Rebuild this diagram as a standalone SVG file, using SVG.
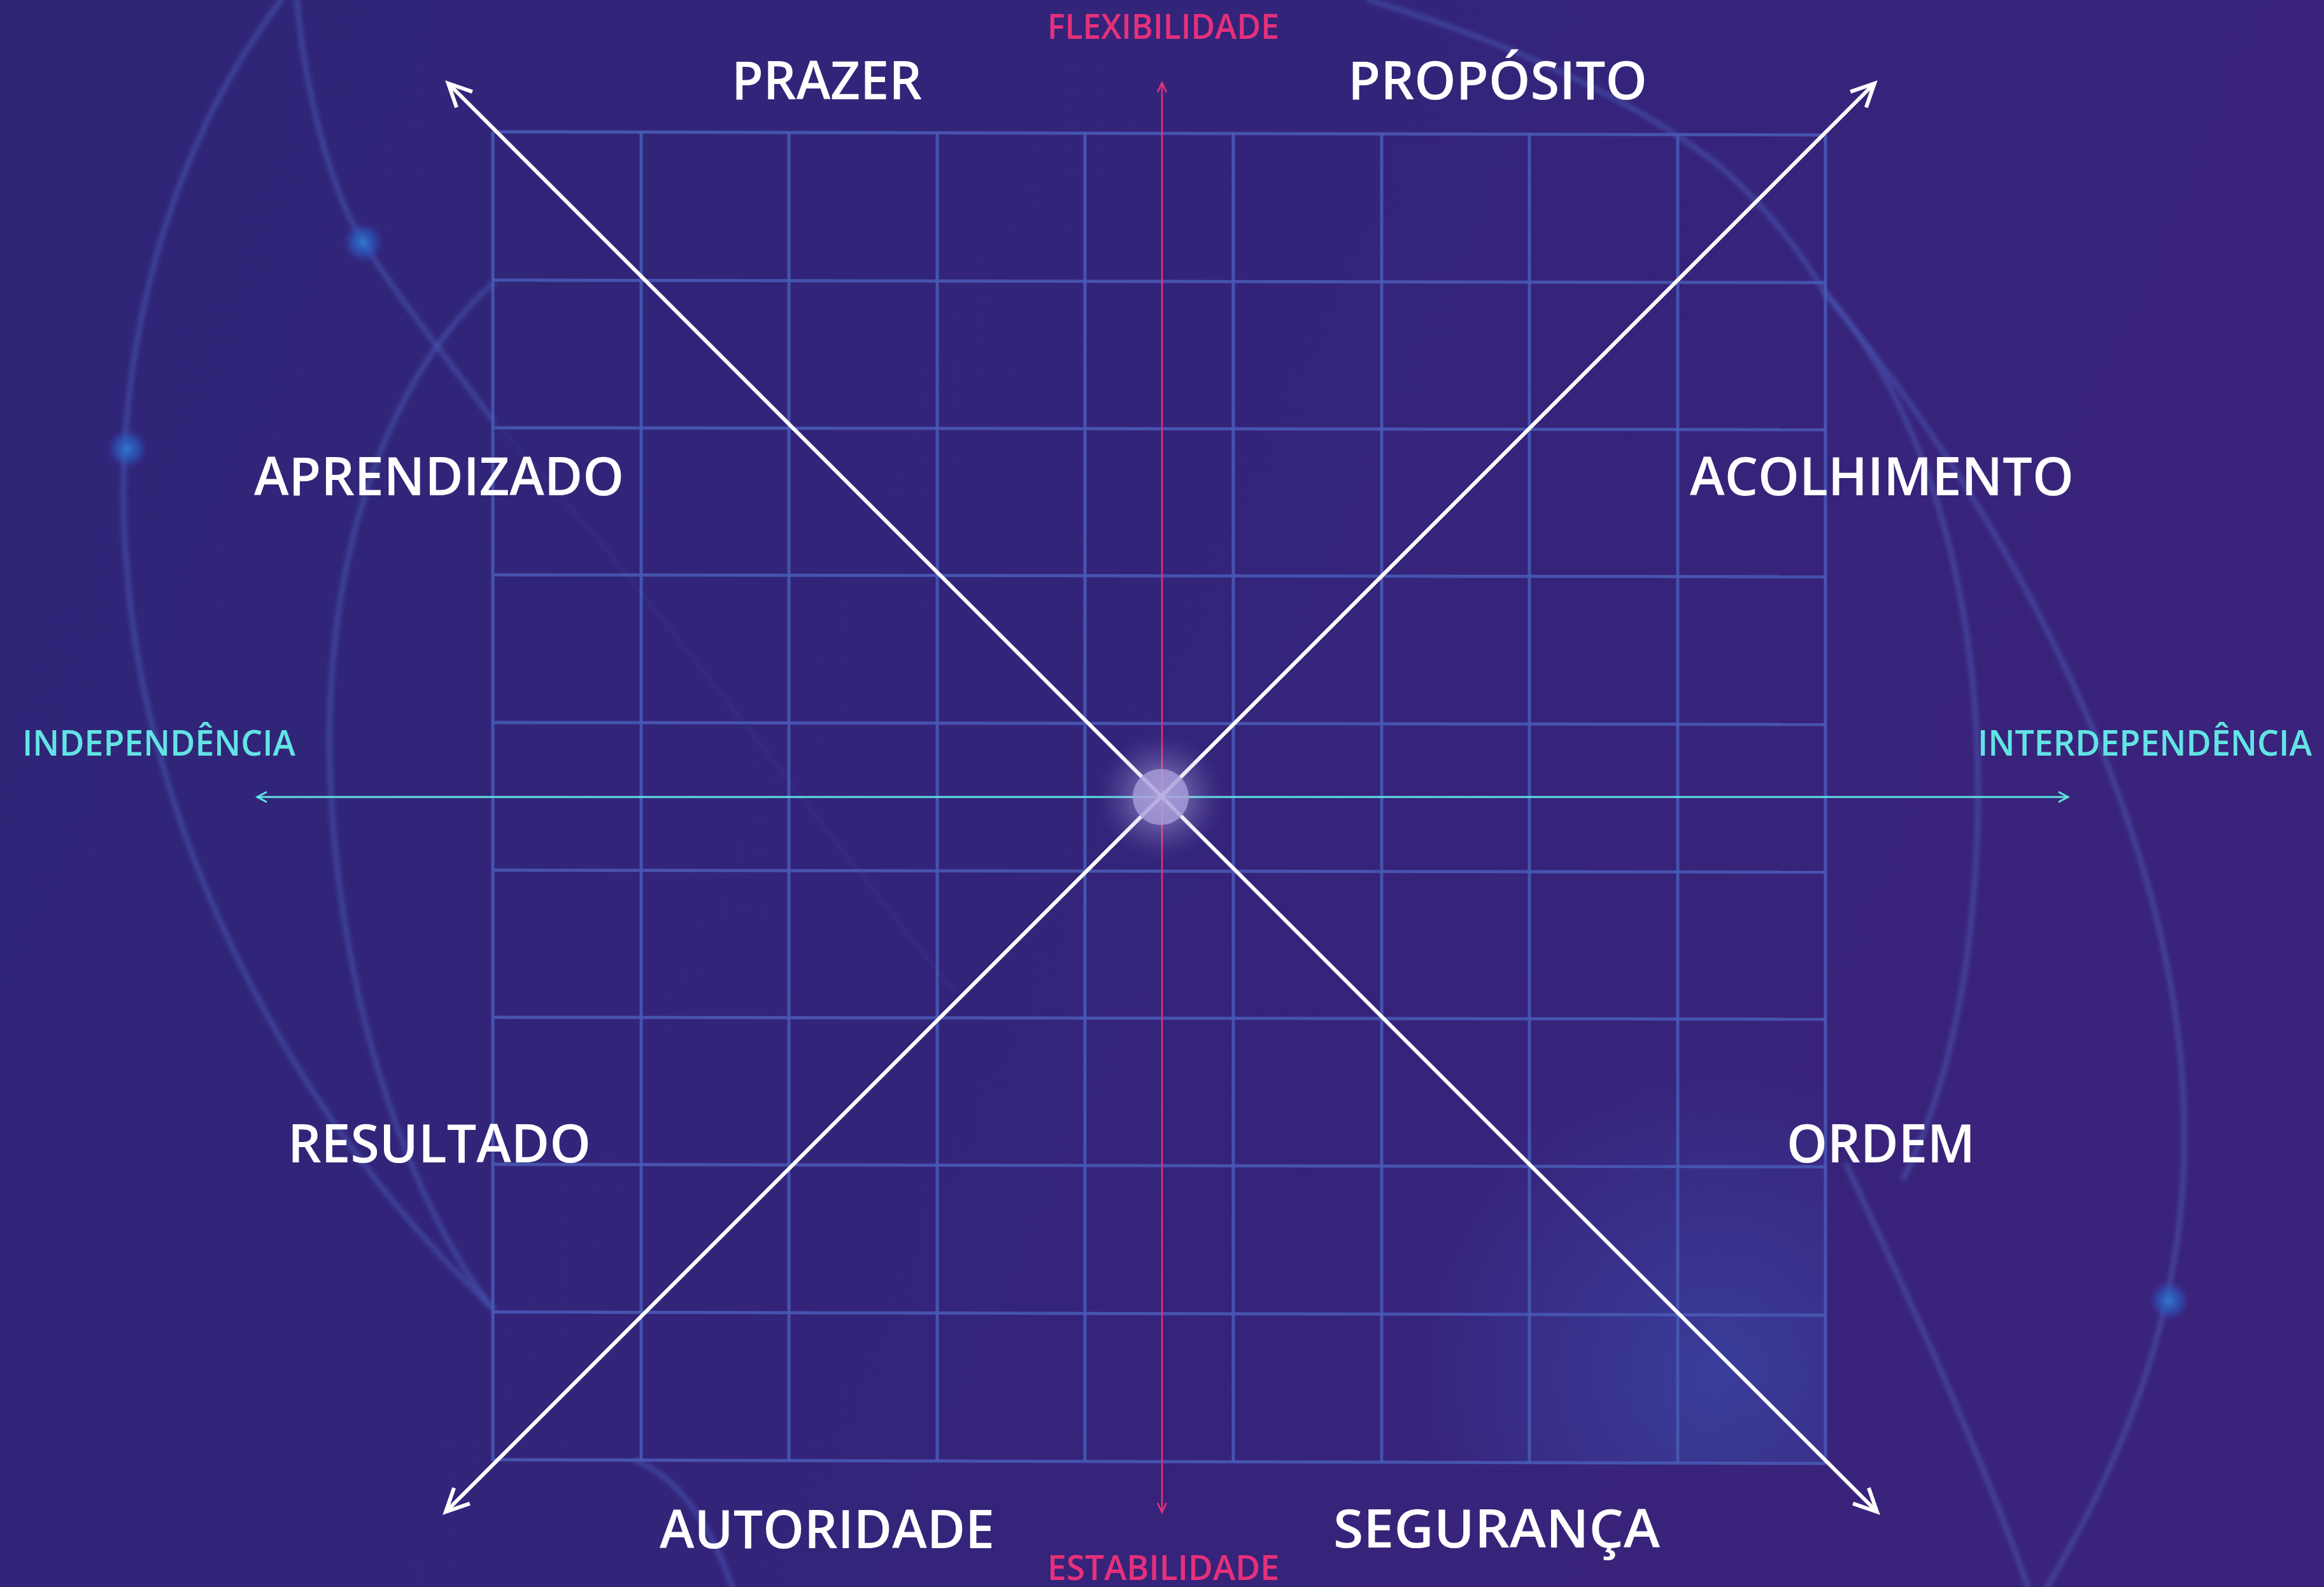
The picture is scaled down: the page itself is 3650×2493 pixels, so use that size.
<svg xmlns="http://www.w3.org/2000/svg" width="3650" height="2493" viewBox="0 0 3650 2493">
  <defs>
    <linearGradient id="bg" x1="0" y1="0" x2="1" y2="0.3">
      <stop offset="0" stop-color="#2f2677"/>
      <stop offset="0.55" stop-color="#33247a"/>
      <stop offset="1" stop-color="#3a237a"/>
    </linearGradient>
    <radialGradient id="blueGlow" cx="0.75" cy="0.8" r="0.7">
      <stop offset="0" stop-color="#3a4fb0" stop-opacity="0.6"/>
      <stop offset="1" stop-color="#3a4fb0" stop-opacity="0"/>
    </radialGradient>
    <radialGradient id="centerGlow" cx="0.5" cy="0.5" r="0.5">
      <stop offset="0" stop-color="#ffffff" stop-opacity="0.45"/>
      <stop offset="0.5" stop-color="#c0b6ea" stop-opacity="0.28"/>
      <stop offset="1" stop-color="#8070c0" stop-opacity="0"/>
    </radialGradient>
    <radialGradient id="dotGlow" cx="0.5" cy="0.5" r="0.5">
      <stop offset="0" stop-color="#2f7ad0" stop-opacity="0.95"/>
      <stop offset="0.55" stop-color="#2a5cc0" stop-opacity="0.6"/>
      <stop offset="1" stop-color="#3a30a0" stop-opacity="0"/>
    </radialGradient>
    <clipPath id="gridClip">
      <rect x="774" y="207" width="2093" height="2092"/>
    </clipPath>
    <filter id="soft" x="-10%" y="-10%" width="120%" height="120%">
      <feGaussianBlur stdDeviation="3"/>
    </filter>
    <marker id="whiteHead" viewBox="-50 -30 60 60" refX="0" refY="0" markerWidth="60" markerHeight="60" markerUnits="userSpaceOnUse" orient="auto-start-reverse">
      <path d="M -36 -17.5 L 0 0 L -36 17.5" fill="none" stroke="#ffffff" stroke-width="6" stroke-linejoin="miter"/>
    </marker>
    <marker id="redHead" viewBox="-20 -12 24 24" refX="0" refY="0" markerWidth="24" markerHeight="24" markerUnits="userSpaceOnUse" orient="auto-start-reverse">
      <path d="M -15 -7 L 0 0 L -15 7" fill="none" stroke="#e8307a" stroke-width="2.5"/>
    </marker>
    <marker id="cyanHead" viewBox="-20 -12 24 24" refX="0" refY="0" markerWidth="24" markerHeight="24" markerUnits="userSpaceOnUse" orient="auto-start-reverse">
      <path d="M -15 -8 L 0 0 L -15 8" fill="none" stroke="#5fe3e3" stroke-width="3"/>
    </marker>
  </defs>
  <style>
    .curve { fill: none; stroke: #4a5cb8; stroke-width: 9; stroke-opacity: 0.5; stroke-linecap: round; }
    .faint { fill: none; stroke: #5a68c0; stroke-width: 4; stroke-opacity: 0.15; }
    .grid line { stroke: #4859b4; stroke-width: 5; stroke-opacity: 0.9; }
    .diag { stroke: #ffffff; stroke-width: 6; fill: none; }
    .lbl { font-family: "Open Sans", "Noto Sans", "Liberation Sans", sans-serif; font-size: 84px; font-weight: 600; fill: #ffffff; }
    .axisRed { font-family: "Open Sans", "Noto Sans", "Liberation Sans", sans-serif; font-size: 55px; font-weight: 600; fill: #e6307a; }
    .axisCyan { font-family: "Open Sans", "Noto Sans", "Liberation Sans", sans-serif; font-size: 56px; font-weight: 600; fill: #62e4e4; }
  </style>

  <!-- background -->
  <rect x="0" y="0" width="3650" height="2493" fill="url(#bg)"/>

  <!-- decorative curves -->
  <g id="background-curves" filter="url(#soft)">
    <path class="curve" d="M 442 0 C 250 250, 170 600, 200 900 C 230 1300, 450 1750, 774 2055"/>
    <path class="curve" d="M 774 445 C 600 600, 500 900, 520 1250 C 540 1600, 650 1900, 774 2055"/>
    <path class="curve" d="M 466 0 C 480 150, 520 300, 570 380 C 620 460, 700 560, 774 660"/>
    <path class="faint" d="M 774 660 C 1000 900, 1250 1250, 1500 1560"/>
    <path class="curve" d="M 1000 2295 C 1060 2320, 1110 2380, 1150 2493" stroke-opacity="0.4"/>
    <path class="curve" d="M 2150 0 C 2350 60, 2560 150, 2700 260 C 2780 330, 2830 400, 2867 461" stroke-opacity="0.4"/>
    <path class="curve" d="M 2867 461 C 3060 680, 3130 1050, 3100 1400 C 3085 1600, 3040 1750, 2990 1850" stroke-opacity="0.4"/>
    <path class="curve" d="M 2867 461 C 3150 800, 3420 1300, 3430 1750 C 3440 2050, 3330 2300, 3215 2493"/>
    <path class="curve" d="M 2900 1830 C 2960 1960, 3100 2250, 3185 2493" stroke-opacity="0.4"/>
  </g>
  <g id="background-dots">
    <circle cx="570" cy="381" r="34" fill="url(#dotGlow)"/>
    <circle cx="200" cy="705" r="34" fill="url(#dotGlow)"/>
    <circle cx="3407" cy="2043" r="34" fill="url(#dotGlow)"/>
  </g>

  <!-- grid -->
  <rect x="2170" y="1600" width="697" height="699" fill="url(#blueGlow)" clip-path="url(#gridClip)"/>
  <g id="grid" class="grid">
    <line x1="774" y1="207" x2="774" y2="2295"/>
    <line x1="1007" y1="207" x2="1007" y2="2295"/>
    <line x1="1239" y1="207" x2="1239" y2="2295"/>
    <line x1="1472" y1="207" x2="1472" y2="2295"/>
    <line x1="1704" y1="207" x2="1704" y2="2295"/>
    <line x1="1937" y1="208" x2="1937" y2="2296"/>
    <line x1="2170" y1="209" x2="2170" y2="2297"/>
    <line x1="2402" y1="210" x2="2402" y2="2298"/>
    <line x1="2635" y1="211" x2="2635" y2="2299"/>
    <line x1="2867" y1="212" x2="2867" y2="2300"/>
    <line x1="774" y1="207" x2="2867" y2="212"/>
    <line x1="774" y1="440" x2="2867" y2="444"/>
    <line x1="774" y1="672" x2="2867" y2="675"/>
    <line x1="774" y1="903" x2="2867" y2="906"/>
    <line x1="774" y1="1135" x2="2867" y2="1138"/>
    <line x1="774" y1="1367" x2="2867" y2="1370"/>
    <line x1="774" y1="1598" x2="2867" y2="1601"/>
    <line x1="774" y1="1829" x2="2867" y2="1833"/>
    <line x1="774" y1="2061" x2="2867" y2="2066"/>
    <line x1="774" y1="2293" x2="2867" y2="2299"/>
  </g>

  <!-- connectors / axes -->
  <g id="connectors">
    <line id="axis-vertical" x1="1825" y1="2376" x2="1825" y2="130" stroke="#e8307a" stroke-width="2.5" marker-start="url(#redHead)" marker-end="url(#redHead)"/>
    <line id="axis-horizontal" x1="404" y1="1252" x2="3248" y2="1252" stroke="#5fe3e3" stroke-width="3" marker-start="url(#cyanHead)" marker-end="url(#cyanHead)"/>
    <line id="diag-1" class="diag" x1="704" y1="131" x2="2948" y2="2375" marker-start="url(#whiteHead)" marker-end="url(#whiteHead)"/>
    <line id="diag-2" class="diag" x1="2944" y1="131" x2="700" y2="2375" marker-start="url(#whiteHead)" marker-end="url(#whiteHead)"/>
  </g>

  <!-- center -->
  <g id="center">
    <circle cx="1823" cy="1252" r="100" fill="url(#centerGlow)"/>
    <circle cx="1823" cy="1252" r="44" fill="#a79ddb" fill-opacity="0.8"/>
  </g>

  <!-- labels -->
  <g id="label-flexibilidade"><text class="axisRed" x="1645" y="61" textLength="364" lengthAdjust="spacingAndGlyphs">FLEXIBILIDADE</text></g>
  <g id="label-estabilidade"><text class="axisRed" x="1645" y="2482" textLength="364" lengthAdjust="spacingAndGlyphs">ESTABILIDADE</text></g>
  <g id="label-independencia"><text class="axisCyan" x="35" y="1187" textLength="429" lengthAdjust="spacingAndGlyphs">INDEPENDÊNCIA</text></g>
  <g id="label-interdependencia"><text class="axisCyan" x="3106" y="1187" textLength="525" lengthAdjust="spacingAndGlyphs">INTERDEPENDÊNCIA</text></g>

  <g id="node-prazer"><text class="lbl" x="1149" y="156" textLength="299" lengthAdjust="spacingAndGlyphs">PRAZER</text></g>
  <g id="node-proposito"><text class="lbl" x="2117" y="156" textLength="470" lengthAdjust="spacingAndGlyphs">PROPÓSITO</text></g>
  <g id="node-aprendizado"><text class="lbl" x="399" y="778" textLength="581" lengthAdjust="spacingAndGlyphs">APRENDIZADO</text></g>
  <g id="node-acolhimento"><text class="lbl" x="2654" y="778" textLength="603" lengthAdjust="spacingAndGlyphs">ACOLHIMENTO</text></g>
  <g id="node-resultado"><text class="lbl" x="452" y="1826" textLength="476" lengthAdjust="spacingAndGlyphs">RESULTADO</text></g>
  <g id="node-ordem"><text class="lbl" x="2806" y="1826" textLength="296" lengthAdjust="spacingAndGlyphs">ORDEM</text></g>
  <g id="node-autoridade"><text class="lbl" x="1036" y="2432" textLength="526" lengthAdjust="spacingAndGlyphs">AUTORIDADE</text></g>
  <g id="node-seguranca"><text class="lbl" x="2094" y="2431" textLength="513" lengthAdjust="spacingAndGlyphs">SEGURANÇA</text></g>
</svg>
